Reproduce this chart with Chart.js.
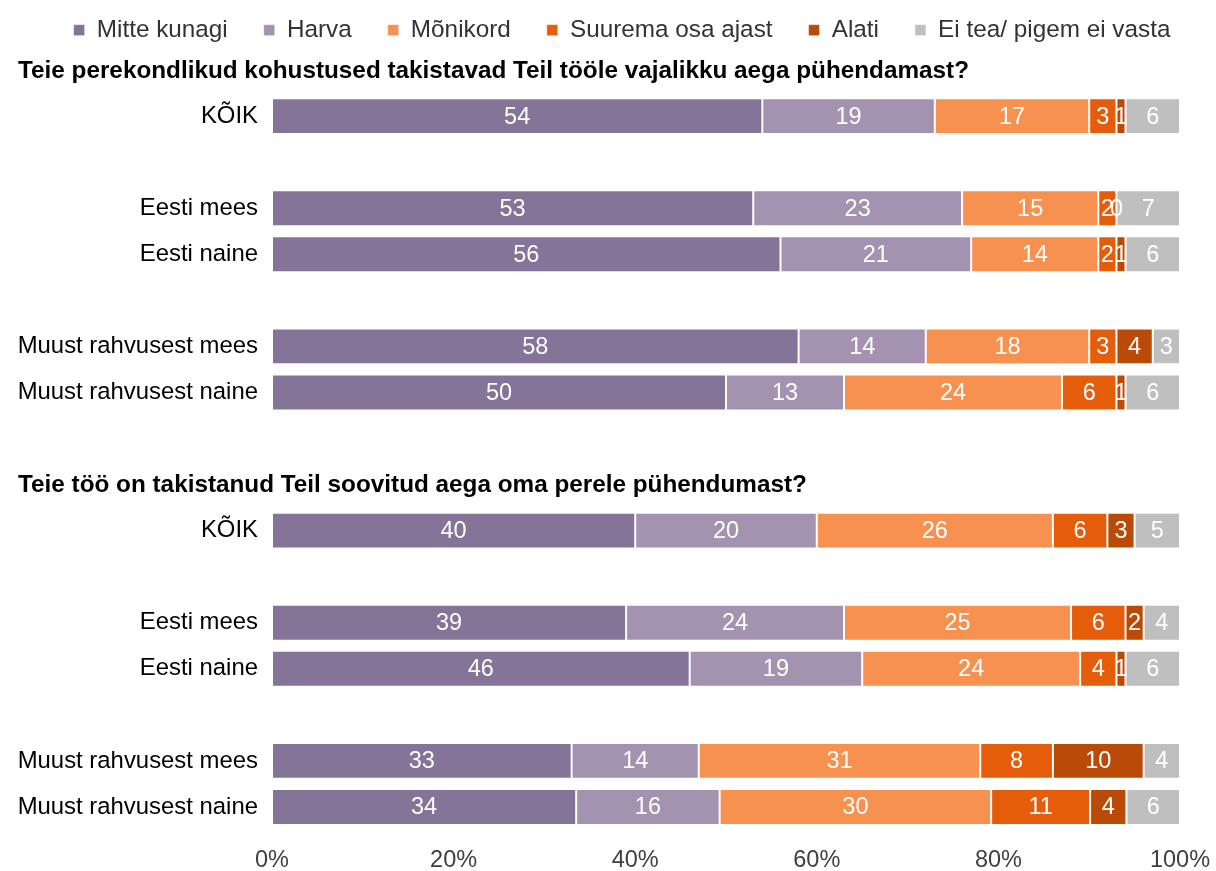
<!DOCTYPE html>
<html>
<head>
<meta charset="utf-8">
<script src="https://cdn.jsdelivr.net/npm/chart.js@4.4.1/dist/chart.umd.min.js"></script>
<style>
  html, body { margin: 0; padding: 0; background: #fff; }
  #wrap { width: 1216px; height: 871px; }
</style>
</head>
<body>
<div id="wrap"><canvas id="chart" width="1216" height="871"></canvas></div>
<script>
const FONT = "'Liberation Sans', Arial, sans-serif";

const groups = ["KÕIK", "Eesti mees", "Eesti naine", "Muust rahvusest mees", "Muust rahvusest naine"];
const questions = [
  "Teie perekondlikud kohustused takistavad Teil tööle vajalikku aega pühendamast?",
  "Teie töö on takistanud Teil soovitud aega oma perele pühendumast?",
];
const seriesNames = ["Mitte kunagi", "Harva", "Mõnikord", "Suurema osa ajast", "Alati", "Ei tea/ pigem ei vasta"];

// first 5 values = question 1, last 5 = question 2 (same group order)
const mitteKunagi = [54, 53, 56, 58, 50, 40, 39, 46, 33, 33.5];
const harva = [19, 23, 21, 14, 13, 20, 24, 19, 14, 15.8];
const monikord = [17, 15, 14, 18, 24, 26, 25, 24, 31, 29.9];
const suuremaOsa = [3, 2, 2, 3, 6, 6, 6, 4, 8, 10.9];
const alati = [1, 0, 1, 4, 1, 3, 2, 1, 10, 4];
const eiTea = [6, 7, 6, 3, 6, 5, 4, 6, 4, 5.9];

const colors = ["#847497", "#a393b0", "#f79150", "#e55c0a", "#b94a07", "#bfbfbf"];

// rows: title, KÕIK, gap, Eesti mees, Eesti naine, gap, Muust mees, Muust naine, (gap)
const rowLabels = [];
const rowIndex = []; // index into series arrays, or null
const titleRows = [];
questions.forEach((q, qi) => {
  const base = qi * groups.length;
  titleRows.push({ row: rowLabels.length, text: q });
  rowLabels.push(""); rowIndex.push(null);
  rowLabels.push(groups[0]); rowIndex.push(base);
  rowLabels.push(""); rowIndex.push(null);
  rowLabels.push(groups[1]); rowIndex.push(base + 1);
  rowLabels.push(groups[2]); rowIndex.push(base + 2);
  rowLabels.push(""); rowIndex.push(null);
  rowLabels.push(groups[3]); rowIndex.push(base + 3);
  rowLabels.push(groups[4]); rowIndex.push(base + 4);
  if (qi < questions.length - 1) { rowLabels.push(""); rowIndex.push(null); }
});

const toRows = (arr) => rowIndex.map((i) => (i === null ? null : arr[i]));

const seriesValues = [mitteKunagi, harva, monikord, suuremaOsa, alati, eiTea];

const datasets = seriesValues.map((vals, i) => ({
  label: seriesNames[i],
  data: toRows(vals),
  backgroundColor: colors[i],
  borderColor: "rgba(255,255,255,0.45)",
  borderWidth: 1,
  borderSkipped: false,
  barPercentage: 0.78,
  categoryPercentage: 1,
}));

// value labels in the middle of each segment
const valueLabels = {
  id: "valueLabels",
  afterDatasetsDraw(chart) {
    const ctx = chart.ctx;
    ctx.save();
    ctx.font = "23.5px " + FONT;
    ctx.fillStyle = "#ffffff";
    ctx.textAlign = "center";
    ctx.textBaseline = "middle";
    chart.data.datasets.forEach((ds, di) => {
      const meta = chart.getDatasetMeta(di);
      meta.data.forEach((bar, idx) => {
        const v = ds.data[idx];
        if (v === null || v === undefined) return;
        const cx = (bar.x + bar.base) / 2;
        ctx.fillText(String(Math.round(v)), cx, bar.y + 1);
      });
    });
    ctx.restore();
  },
};

// question titles sit in their own category rows
const questionTitles = {
  id: "questionTitles",
  afterDraw(chart) {
    const ctx = chart.ctx;
    const yScale = chart.scales.y;
    ctx.save();
    ctx.font = "bold 24.3px " + FONT;
    ctx.fillStyle = "#000000";
    ctx.textAlign = "left";
    ctx.textBaseline = "middle";
    titleRows.forEach((t) => {
      ctx.fillText(t.text, 18, yScale.getPixelForValue(t.row) + 1);
    });
    ctx.restore();
  },
};

// keep legend height fixed so the plot starts right under it,
// and nudge it right like in the original
const legendTweak = {
  id: "legendTweak",
  beforeInit(chart) {
    const legend = chart.legend;
    if (!legend) return;
    const fit = legend.fit;
    legend.fit = function () {
      fit.call(this);
      this.height = 65;
    };
    const draw = legend.draw;
    legend.draw = function () {
      const ctx = this.ctx;
      ctx.save();
      ctx.translate(32, 0);
      draw.call(this);
      ctx.restore();
    };
  },
};

new Chart(document.getElementById("chart"), {
  type: "bar",
  data: { labels: rowLabels, datasets },
  options: {
    indexAxis: "y",
    responsive: false,
    animation: false,
    layout: { padding: { top: -18, right: 36, left: 0, bottom: 0 } },
    plugins: {
      legend: {
        position: "top",
        labels: {
          boxWidth: 11,
          boxHeight: 11,
          padding: 36,
          color: "#333333",
          font: { family: FONT, size: 24.3 },
        },
      },
      tooltip: { enabled: false },
      title: { display: false },
    },
    scales: {
      x: {
        stacked: true,
        min: 0,
        max: 100,
        ticks: {
          stepSize: 20,
          padding: 16,
          color: "#404040",
          font: { family: FONT, size: 23.5 },
          callback: (v) => v + "%",
        },
        grid: { display: false, drawTicks: false },
        border: { display: false },
        afterFit(scale) {
          scale.height = 41;
          scale.paddingLeft = 0;
          scale.paddingRight = 0;
        },
      },
      y: {
        stacked: true,
        ticks: {
          padding: 14,
          color: "#000000",
          autoSkip: false,
          font: { family: FONT, size: 23.9 },
        },
        grid: { display: false, drawTicks: false },
        border: { display: false },
        afterFit(scale) { scale.width = 272; },
      },
    },
  },
  plugins: [legendTweak, valueLabels, questionTitles],
});
</script>
</body>
</html>
